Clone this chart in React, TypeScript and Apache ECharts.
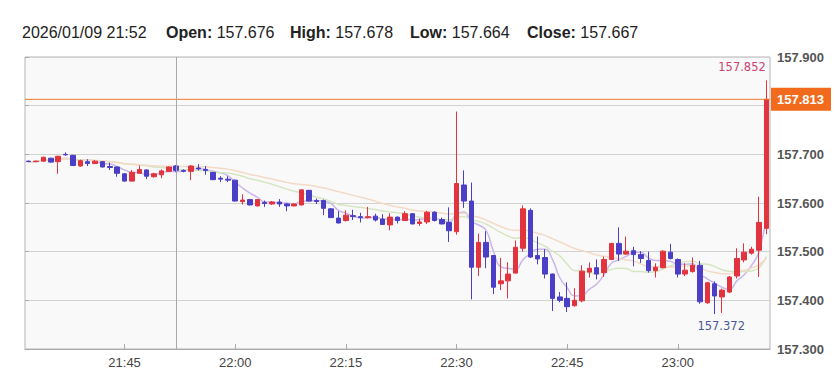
import React, { useEffect, useRef } from "react";
import * as echarts from "echarts";

const times = [
  "21:32","21:33","21:34","21:35","21:36","21:37","21:38","21:39","21:40","21:41",
  "21:42","21:43","21:44","21:45","21:46","21:47","21:48","21:49","21:50","21:51",
  "21:52","21:53","21:54","21:55","21:56","21:57","21:58","21:59","22:00","22:01",
  "22:02","22:03","22:04","22:05","22:06","22:07","22:08","22:09","22:10","22:11",
  "22:12","22:13","22:14","22:15","22:16","22:17","22:18","22:19","22:20","22:21",
  "22:22","22:23","22:24","22:25","22:26","22:27","22:28","22:29","22:30","22:31",
  "22:32","22:33","22:34","22:35","22:36","22:37","22:38","22:39","22:40","22:41",
  "22:42","22:43","22:44","22:45","22:46","22:47","22:48","22:49","22:50","22:51",
  "22:52","22:53","22:54","22:55","22:56","22:57","22:58","22:59","23:00","23:01",
  "23:02","23:03","23:04","23:05","23:06","23:07","23:08","23:09","23:10","23:11",
  "23:12"
];

const opens = [
  157.686,157.685,157.686,157.692,157.685,157.700,157.698,157.676,157.685,157.681,
  157.685,157.675,157.674,157.660,157.645,157.661,157.668,157.654,157.658,157.665,
  157.676,157.667,157.665,157.672,157.669,157.663,157.651,157.649,157.647,157.603,
  157.607,157.594,157.601,157.598,157.602,157.598,157.594,157.596,157.626,157.605,
  157.605,157.588,157.569,157.564,157.574,157.572,157.570,157.573,157.567,157.555,
  157.571,157.564,157.578,157.558,157.561,157.581,157.566,157.560,157.541,157.637,
  157.604,157.468,157.519,157.492,157.434,157.440,157.456,157.507,157.585,157.492,
  157.488,157.454,157.407,157.404,157.389,157.399,157.458,157.467,157.457,157.484,
  157.517,157.495,157.502,157.494,157.482,157.461,157.467,157.499,157.484,157.454,
  157.459,157.472,157.395,157.434,157.407,157.417,157.450,157.483,157.497,157.503,
  157.548
];

const closes = [
  157.685,157.686,157.694,157.684,157.696,157.699,157.677,157.687,157.681,157.686,
  157.674,157.673,157.661,157.645,157.663,157.669,157.655,157.660,157.666,157.674,
  157.667,157.665,157.676,157.670,157.667,157.648,157.649,157.647,157.604,157.606,
  157.596,157.607,157.599,157.602,157.598,157.594,157.598,157.627,157.604,157.603,
  157.589,157.570,157.559,157.575,157.572,157.570,157.572,157.565,157.556,157.571,
  157.564,157.578,157.557,157.561,157.581,157.564,157.557,157.543,157.640,157.604,
  157.468,157.519,157.489,157.427,157.440,157.454,157.509,157.588,157.489,157.485,
  157.454,157.404,157.400,157.387,157.400,157.460,157.466,157.454,157.484,157.517,
  157.495,157.501,157.494,157.486,157.461,157.468,157.501,157.486,157.454,157.462,
  157.472,157.397,157.436,157.409,157.421,157.448,157.486,157.499,157.505,157.560,
  157.813
];

const lows = [
  157.684,157.684,157.685,157.683,157.660,157.697,157.676,157.675,157.676,157.680,
  157.673,157.668,157.654,157.644,157.644,157.660,157.649,157.652,157.651,157.664,
  157.664,157.663,157.647,157.667,157.658,157.647,157.643,157.643,157.603,157.597,
  157.595,157.593,157.592,157.596,157.592,157.583,157.593,157.595,157.603,157.598,
  157.575,157.569,157.558,157.562,157.565,157.560,157.568,157.562,157.555,157.544,
  157.558,157.563,157.556,157.553,157.557,157.562,157.556,157.520,157.535,157.590,
  157.402,157.450,157.466,157.413,157.421,157.404,157.455,157.500,157.487,157.474,
  157.445,157.378,157.396,157.376,157.387,157.396,157.447,157.443,157.448,157.483,
  157.481,157.493,157.470,157.477,157.457,157.447,157.466,157.484,157.447,157.450,
  157.457,157.393,157.393,157.372,157.374,157.415,157.445,157.478,157.494,157.448,
  157.536
];

const highs = [
  157.687,157.687,157.695,157.693,157.697,157.704,157.699,157.689,157.690,157.688,
  157.686,157.683,157.675,157.661,157.668,157.677,157.669,157.662,157.669,157.675,
  157.678,157.669,157.678,157.680,157.676,157.664,157.655,157.655,157.648,157.618,
  157.608,157.608,157.605,157.604,157.608,157.600,157.599,157.628,157.627,157.609,
  157.607,157.589,157.583,157.585,157.586,157.580,157.592,157.578,157.577,157.579,
  157.572,157.583,157.579,157.568,157.584,157.583,157.570,157.591,157.788,157.667,
  157.642,157.537,157.542,157.493,157.487,157.478,157.523,157.595,157.589,157.531,
  157.505,157.455,157.417,157.437,157.425,157.472,157.478,157.484,157.490,157.518,
  157.550,157.531,157.510,157.501,157.500,157.476,157.503,157.516,157.486,157.476,
  157.488,157.481,157.438,157.439,157.424,157.450,157.507,157.517,157.510,157.613,
  157.852
];

const maPeriods = [5, 15, 25];
const maColors = ["#cbb6ec", "#d6e6c2", "#f3dac6"];
const yMin = 157.3;
const yMax = 157.9;
const yInterval = 0.1;
const currentPrice = 157.813;
const crosshairTime = "21:52";
const headerTime = "2026/01/09 21:52";
const headerFields = [
  { label: "Open:", value: "157.676" },
  { label: "High:", value: "157.678" },
  { label: "Low:", value: "157.664" },
  { label: "Close:", value: "157.667" },
];
const headerX = [22, 166, 290, 410, 527];

function movingAverage(n: number): number[] {
  return closes.map((_, i) => {
    const start = Math.max(0, i - n + 1);
    let s = 0;
    for (let k = start; k <= i; k++) s += closes[k];
    return +(s / (i - start + 1)).toFixed(4);
  });
}

const FONT = '"Liberation Sans", Arial, sans-serif';
const ORANGE = "#ee7a2c";

export default function App() {
  const ref = useRef<HTMLDivElement>(null);
  useEffect(() => {
    if (!ref.current) return;
    const chart = echarts.init(ref.current, undefined, { renderer: "svg" });
    const candles = times.map((_, i) => [opens[i], closes[i], lows[i], highs[i]]);
    const isMajor = (v: string) => {
      const m = v.split(":")[1];
      return m === "00" || m === "15" || m === "30" || m === "45";
    };
    const headerGraphics: any[] = [
      {
        type: "text",
        x: headerX[0],
        y: 32,
        style: { text: headerTime, font: `16px ${FONT}`, fill: "#222", verticalAlign: "middle" },
      },
      ...headerFields.map((f, k) => ({
        type: "text",
        x: headerX[k + 1],
        y: 32,
        style: {
          text: `{b|${f.label}} {n|${f.value}}`,
          verticalAlign: "middle",
          fill: "#222",
          font: `16px ${FONT}`,
          rich: {
            b: { fontWeight: "bold", fontSize: 16, fontFamily: FONT, fill: "#222" },
            n: { fontSize: 16, fontFamily: FONT, fill: "#222" },
          },
        },
      })),
    ];

    const maSeries = maPeriods.map((p, k) => ({
      type: "line",
      name: `MA${p}`,
      data: movingAverage(p),
      symbol: "none",
      smooth: true,
      z: 1,
      color: maColors[k],
      lineStyle: { color: maColors[k], width: 1.5 },
    }));

    const option: any = {
      animation: false,
      backgroundColor: "#ffffff",
      graphic: headerGraphics,
      grid: {
        left: 25,
        right: 67,
        top: 57,
        bottom: 27,
        show: true,
        backgroundColor: "#f9f9f9",
        borderColor: "#b5b5b5",
        borderWidth: 1,
      },
      xAxis: [
        {
          type: "category",
          data: times,
          boundaryGap: true,
          axisLine: { show: true, lineStyle: { color: "#aaaaaa" } },
          axisTick: {
            show: true,
            alignWithLabel: true,
            inside: true,
            length: 5,
            interval: (_i: number, v: string) => isMajor(v),
            lineStyle: { color: "#aaaaaa" },
          },
          axisLabel: {
            interval: (_i: number, v: string) => isMajor(v),
            color: "#444",
            fontSize: 13,
            fontFamily: FONT,
            margin: 7,
          },
          splitLine: { show: false },
        },
        { type: "value", min: 0, max: 1, show: false },
      ],
      yAxis: {
        type: "value",
        position: "right",
        min: yMin,
        max: yMax,
        interval: yInterval,
        axisLine: { show: false },
        axisTick: { show: true, length: 4, lineStyle: { color: "#aaaaaa" } },
        axisLabel: {
          // the tick label nearest the current price is covered by the price tag
          formatter: (v: number) => (Math.abs(v - currentPrice) < 0.03 ? "" : v.toFixed(3)),
          color: "#555",
          fontWeight: "bold",
          fontSize: 13,
          fontFamily: FONT,
          margin: 7,
        },
        splitLine: { show: true, lineStyle: { color: "#d2d2d2", width: 1 } },
      },
      series: [
        ...maSeries,
        {
          type: "candlestick",
          name: "USDJPY",
          data: candles,
          barWidth: 5,
          z: 3,
          itemStyle: {
            color: "#e2343e",
            color0: "#4a3fc6",
            borderColor: "#e2343e",
            borderColor0: "#4a3fc6",
            borderWidth: 1,
          },
          markLine: {
            symbol: ["none", "none"],
            data: [
              {
                xAxis: crosshairTime,
                lineStyle: { color: "#a8a8a8", width: 1, type: "solid" },
                label: { show: false },
              },
            ],
          },
          markPoint: {
            symbol: "circle",
            symbolSize: 1,
            silent: true,
            itemStyle: { color: "rgba(0,0,0,0)" },
            data: [
              {
                type: "max",
                valueDim: "highest",
                label: {
                  show: true,
                  position: [0, -13],
                  align: "right",
                  verticalAlign: "middle",
                  formatter: (p: any) => Number(p.value).toFixed(3),
                  color: "#cc4470",
                  fontSize: 11.5,
                  fontFamily: '"DejaVu Sans", sans-serif',
                },
              },
              {
                type: "min",
                valueDim: "lowest",
                label: {
                  show: true,
                  position: [7, 13],
                  align: "center",
                  verticalAlign: "middle",
                  formatter: (p: any) => Number(p.value).toFixed(3),
                  color: "#4a5a95",
                  fontSize: 11.5,
                  fontFamily: '"DejaVu Sans", sans-serif',
                },
              },
            ],
          },
        },
        {
          type: "line",
          name: "Current",
          xAxisIndex: 1,
          data: [
            [0, currentPrice],
            [1, currentPrice],
          ],
          symbol: "none",
          z: 4,
          color: ORANGE,
          lineStyle: { color: ORANGE, width: 1, type: "solid" },
          endLabel: {
            show: true,
            formatter: currentPrice.toFixed(3),
            color: "#ffffff",
            backgroundColor: "#f26b1d",
            fontWeight: "bold",
            fontSize: 13,
            fontFamily: FONT,
            padding: [5, 7, 5, 6],
            distance: 1,
          },
        },
      ],
    };
    chart.setOption(option);
    return () => chart.dispose();
  }, []);
  return (
    <div
      ref={ref}
      style={{ position: "fixed", left: 0, top: 0, width: 837, height: 376, background: "#fff" }}
    />
  );
}
